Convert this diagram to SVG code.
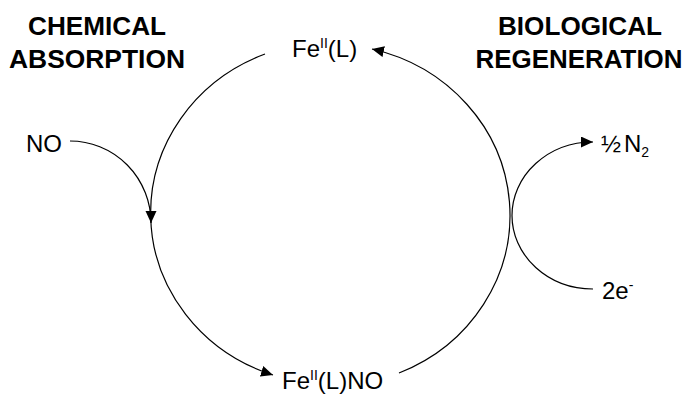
<svg xmlns="http://www.w3.org/2000/svg" width="684" height="394" viewBox="0 0 684 394">
  <style>
    .title { font-family: "Liberation Sans", Arial, sans-serif; font-weight: bold; font-size: 25.5px; fill: #000; text-anchor: middle; }
    .lbl { font-family: "Liberation Sans", Arial, sans-serif; font-size: 24px; fill: #000; }
    .sup { font-size: 14px; }
    .conn { fill: none; stroke: #000; stroke-width: 1.2; }
  </style>
  <defs>
    <marker id="ah" markerWidth="13" markerHeight="12" refX="12" refY="5.5" orient="auto" markerUnits="userSpaceOnUse">
      <path d="M0,0 L12,5.5 L0,11 z" fill="#000"/>
    </marker>
  </defs>

  <rect width="684" height="394" fill="#fff"/>

  <!-- section headings -->
  <g id="chemical-absorption">
    <text class="title" x="97" y="35" textLength="138" lengthAdjust="spacingAndGlyphs">CHEMICAL</text>
    <text class="title" x="97" y="68" textLength="176" lengthAdjust="spacingAndGlyphs">ABSORPTION</text>
  </g>
  <g id="biological-regeneration">
    <text class="title" x="580" y="35" textLength="164" lengthAdjust="spacingAndGlyphs">BIOLOGICAL</text>
    <text class="title" x="579" y="68" textLength="207" lengthAdjust="spacingAndGlyphs">REGENERATION</text>
  </g>

  <!-- species -->
  <g id="fe-l">
    <text class="lbl" x="292" y="57">Fe<tspan class="sup" dy="-9">II</tspan><tspan dy="9">(L)</tspan></text>
  </g>
  <g id="fe-l-no">
    <text class="lbl" x="282" y="389">Fe<tspan class="sup" dy="-9">II</tspan><tspan dy="9">(L)NO</tspan></text>
  </g>
  <g id="no">
    <text class="lbl" x="26" y="152">NO</text>
  </g>
  <g id="half-n2">
    <text class="lbl" x="601" y="152">½<tspan dx="3">N</tspan><tspan class="sup" dy="5">2</tspan></text>
  </g>
  <g id="two-e">
    <text class="lbl" x="602" y="299">2e<tspan class="sup" dy="-9">-</tspan></text>
  </g>

  <!-- reaction cycle and side streams -->
  <g id="connectors">
    <path class="conn" d="M265,54 A180.5,171 0 0 0 273,375" marker-end="url(#ah)"/>
    <path class="conn" d="M399,373 A180.5,171 0 0 0 372,49" marker-end="url(#ah)"/>
    <path class="conn" d="M70,141 A81,82 0 0 1 151,223" marker-end="url(#ah)"/>
    <path class="conn" d="M593,289 A81,73.5 0 0 1 593,142" marker-end="url(#ah)"/>
  </g>
</svg>
